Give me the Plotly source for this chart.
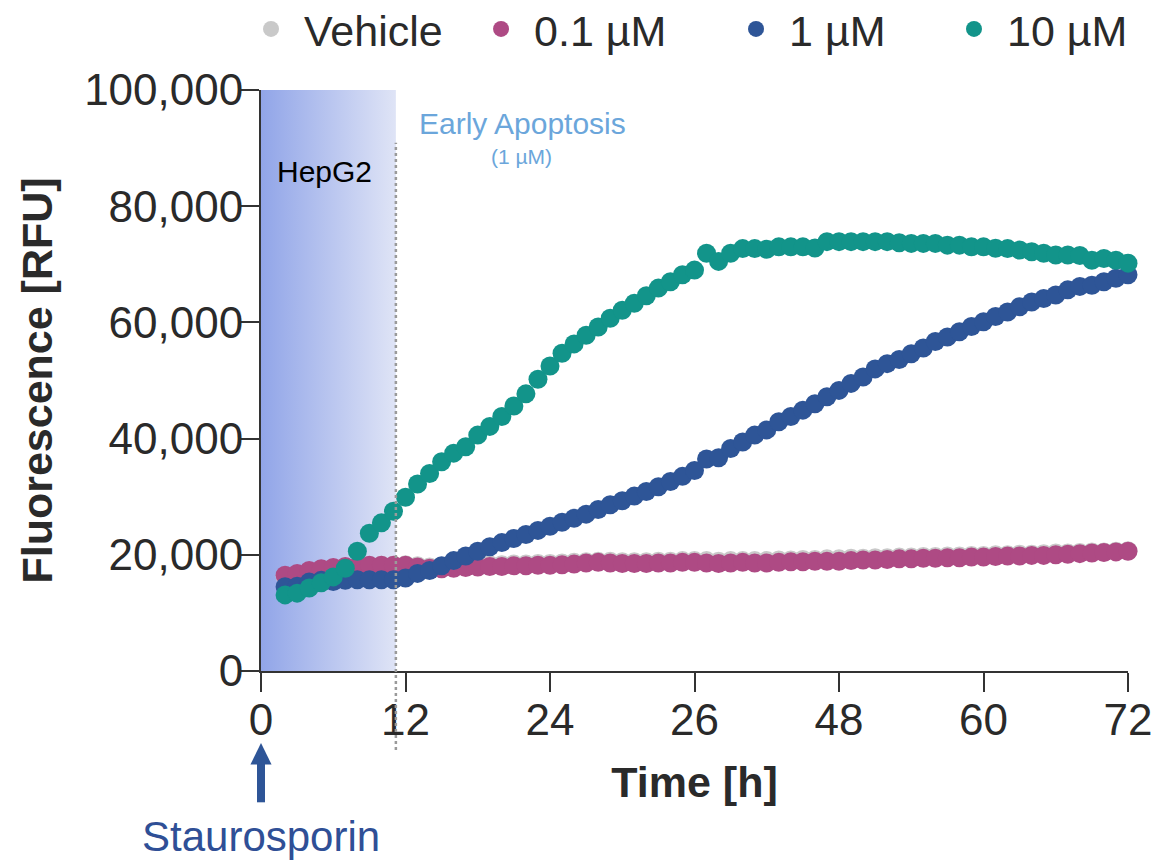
import plotly.graph_objects as go

# ---------------- data ----------------
time_h = list(range(2, 73))

vehicle = [16300, 16600, 17100, 17400, 17700, 17900, 18000, 18100, 18200, 18200,
           18300, 18100, 17900, 17900, 18000, 18100, 18200, 18300, 18300, 18400,
           18400, 18500, 18500, 18600, 18700, 18800, 18900, 18900, 18800, 18800,
           18800, 18900, 18900, 19000, 19000, 19000, 18900, 19000, 19000, 19000,
           19000, 19100, 19100, 19200, 19200, 19300, 19300, 19400, 19400, 19500,
           19500, 19600, 19600, 19700, 19700, 19800, 19800, 19900, 19900, 20000,
           20000, 20100, 20100, 20200, 20300, 20300, 20400, 20500, 20500, 20600,
           20700]

conc_01 = [16500, 16800, 17300, 17600, 17800, 18000, 18000, 18200, 18200, 18200,
           18200, 17900, 17700, 17600, 17700, 17800, 17900, 18000, 18000, 18100,
           18100, 18200, 18200, 18300, 18400, 18600, 18700, 18600, 18500, 18500,
           18500, 18600, 18600, 18700, 18700, 18600, 18500, 18600, 18700, 18600,
           18600, 18700, 18800, 18800, 18900, 18900, 18900, 19000, 19100, 19100,
           19200, 19300, 19300, 19400, 19400, 19500, 19500, 19600, 19600, 19700,
           19800, 19800, 19900, 19900, 20000, 20100, 20200, 20300, 20400, 20500,
           20600]

conc_1 = [14500, 14600, 15300, 15600, 15400, 15600, 15700, 15700, 15700, 15700,
          16000, 16800, 17300, 18100, 19000, 19800, 20600, 21400, 22100, 22800,
          23500, 24200, 24900, 25600, 26300, 27000, 27800, 28600, 29300, 30100,
          30900, 31700, 32600, 33500, 34500, 36500, 36700, 38300, 39400, 40600,
          41500, 42900, 43800, 44900, 46000, 47200, 48300, 49500, 50600, 52000,
          52900, 53600, 54600, 55600, 56700, 57500, 58400, 59300, 60100, 61000,
          61800, 62700, 63500, 64100, 64700, 65600, 66200, 66400, 67000, 67600,
          68200]

conc_10 = [13100, 13400, 14300, 15200, 16200, 17700, 20600, 23700, 25500, 27500,
           29900, 32200, 34000, 36000, 37500, 38600, 40600, 42100, 43800, 45600,
           47700, 50200, 52500, 54700, 56300, 57800, 59200, 60700, 62100, 63300,
           64600, 65900, 67000, 68200, 69000, 71900, 70500, 71900, 72700, 72700,
           72600, 73000, 73000, 73000, 72800, 73900, 73900, 73900, 73900, 73900,
           73900, 73700, 73600, 73600, 73600, 73300, 73300, 73000, 73000, 72750,
           72700, 72450, 72150, 71900, 71600, 71600, 71500, 70700, 71000, 70700,
           70200]

series_names = ["Vehicle", "0.1 µM", "1 µM", "10 µM"]
series_values = [vehicle, conc_01, conc_1, conc_10]
series_colors = ["#c9c9c9", "#ae4a84", "#2e5597", "#12948a"]

x_tickvals = [0, 12, 24, 36, 48, 60, 72]
x_ticktext = ["0", "12", "24", "26", "48", "60", "72"]
y_tickvals = [0, 20000, 40000, 60000, 80000, 100000]

EARLY_END = 11.2      # end of shaded "HepG2" window (h)
Y_MAX = 100000

FONT = "Liberation Sans, Arial, sans-serif"
TXT = "#2a2a2a"

# ---------------- figure ----------------
fig = go.Figure()

# gradient window
fig.add_trace(go.Scatter(
    x=[0, EARLY_END, EARLY_END, 0, 0], y=[0, 0, Y_MAX, Y_MAX, 0],
    mode="none", fill="toself",
    fillgradient=dict(type="horizontal",
                      colorscale=[[0, "#91a5e8"], [1, "#dfe4f6"]]),
    showlegend=False, hoverinfo="skip"))

legend_ids = ["legend", "legend2", "legend3", "legend4"]
for name, vals, col, lg in zip(series_names, series_values, series_colors, legend_ids):
    fig.add_trace(go.Scatter(
        x=time_h, y=vals, name=name, mode="markers",
        marker=dict(size=19, color=col, line=dict(width=0)),
        cliponaxis=False, legend=lg))

# dotted vertical divider
fig.add_shape(type="line", xref="x", yref="paper",
              x0=EARLY_END, x1=EARLY_END, y0=-0.136, y1=0.909,
              line=dict(color="#9a9a9a", width=2.5, dash="dot"), layer="above")

# Staurosporin arrow (shaft + head), paper coordinates
ARROW_COL = "#2e5597"
fig.add_shape(type="line", xref="paper", yref="paper", x0=0, x1=0,
              y0=-0.226, y1=-0.150, line=dict(color=ARROW_COL, width=8))
fig.add_shape(type="path", xref="paper", yref="paper",
              path="M -0.0122 -0.161 L 0.0122 -0.161 L 0 -0.124 Z",
              fillcolor=ARROW_COL, line=dict(width=0))

annotations = [
    dict(text="HepG2", x=5.3, y=0.859, xref="x", yref="paper", showarrow=False,
         yanchor="middle", font=dict(family=FONT, size=30, color="#000000")),
    dict(text="Early Apoptosis", x=21.7, y=0.943, xref="x", yref="paper",
         yanchor="middle", showarrow=False,
         font=dict(family=FONT, size=30, color="#6ba6db")),
    dict(text="(1 µM)", x=21.6, y=0.886, xref="x", yref="paper", yanchor="middle",
         showarrow=False, font=dict(family=FONT, size=21, color="#6ba6db")),
    dict(text="Staurosporin", x=0, y=-0.285, xref="x", yref="paper",
         yanchor="middle", showarrow=False,
         font=dict(family=FONT, size=42, color="#2f4f96")),
]

axis_common = dict(showline=True, linecolor="#333333", linewidth=2,
                   ticks="outside", ticklen=19, tickwidth=2, tickcolor="#333333",
                   showgrid=False, zeroline=False, automargin=False,
                   ticklabeloverflow="allow",
                   tickfont=dict(family=FONT, size=44, color=TXT))

leg_common = dict(orientation="h", yanchor="middle", y=1.105, xanchor="left",
                  bgcolor="rgba(0,0,0,0)", itemwidth=56,
                  font=dict(family=FONT, size=43, color=TXT))

# page body has an 8px margin: figure size/margins compensate for it
fig.update_layout(
    width=1151, height=855,
    margin=dict(l=253, r=31, t=82, b=192, autoexpand=False),
    paper_bgcolor="white", plot_bgcolor="white",
    showlegend=True,
    legend=dict(x=-0.0265, **leg_common),
    legend2=dict(x=0.2388, **leg_common),
    legend3=dict(x=0.5329, **leg_common),
    legend4=dict(x=0.7843, **leg_common),
    xaxis=dict(range=[0, 72], tickvals=x_tickvals, ticktext=x_ticktext,
               ticklabelstandoff=-10,
               title=dict(text="<b>Time [h]</b>", standoff=24,
                          font=dict(family=FONT, size=43, color=TXT)),
               **axis_common),
    yaxis=dict(range=[0, Y_MAX], tickvals=y_tickvals, tickformat=",",
               ticklabelstandoff=-12,
               title=dict(text="<b>Fluorescence [RFU]</b>", standoff=18,
                          font=dict(family=FONT, size=43, color=TXT)),
               **axis_common),
    annotations=annotations,
)

fig.write_html("out.html")
